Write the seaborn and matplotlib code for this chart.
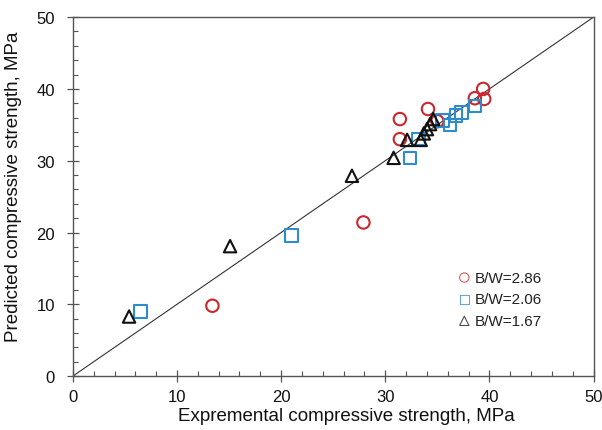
import matplotlib
matplotlib.use("Agg")
import matplotlib.pyplot as plt
import seaborn as sns
import pandas as pd
from matplotlib.ticker import MultipleLocator

# Data
labels = ["B/W=2.86", "B/W=2.06", "B/W=1.67"]
x_286 = [13.4, 27.9, 31.4, 31.4, 34.1, 35.0, 38.6, 39.4, 39.5]
y_286 = [9.8, 21.4, 33.0, 35.8, 37.2, 35.5, 38.7, 40.0, 38.6]
x_206 = [6.5, 21.0, 32.4, 33.2, 35.5, 36.2, 36.8, 37.3, 38.6]
y_206 = [9.0, 19.6, 30.4, 33.0, 35.6, 35.0, 36.3, 36.7, 37.6]
x_167 = [5.4, 15.1, 26.8, 30.8, 32.1, 33.4, 33.7, 34.0, 34.3, 34.6]
y_167 = [8.3, 18.1, 27.9, 30.4, 32.9, 32.9, 33.8, 34.4, 35.1, 35.8]
line_x = [0, 50]
line_y = [0, 50]

sns.set_theme(style="white")
plt.rcParams["font.family"] = ["Liberation Sans", "DejaVu Sans"]

fig = plt.figure(figsize=(6.02, 4.31), dpi=100)
ax = fig.add_axes([0.121, 0.125, 0.865, 0.833])

sns.lineplot(x=line_x, y=line_y, ax=ax, color="#333333", linewidth=0.8)

series = [
    (x_286, y_286, "o", "#c8282e", labels[0]),
    (x_206, y_206, "s", "#2f8ccc", labels[1]),
    (x_167, y_167, "^", "#111111", labels[2]),
]
for xs, ys, m, c, lab in series:
    df = pd.DataFrame({"x": xs, "y": ys})
    sns.scatterplot(data=df, x="x", y="y", ax=ax, marker=m, s=80,
                    color=c, facecolor="none", edgecolor=c,
                    linewidth=1.5, label=lab, zorder=3)

ax.set_xlim(0, 50)
ax.set_ylim(0, 50)
ax.xaxis.set_major_locator(MultipleLocator(10))
ax.yaxis.set_major_locator(MultipleLocator(10))
ax.xaxis.set_minor_locator(MultipleLocator(2))
ax.yaxis.set_minor_locator(MultipleLocator(2))
ax.tick_params(which="major", direction="inout", length=8, width=0.9,
               color="#555555", labelsize=12, labelcolor="#111111",
               bottom=True, left=True)
ax.tick_params(axis="x", which="major", pad=5)
ax.tick_params(axis="y", which="major", pad=9)
ax.tick_params(which="minor", direction="in", length=3.5, width=0.8,
               color="#555555", bottom=True, left=True)
for sp in ax.spines.values():
    sp.set_color("#555555")
    sp.set_linewidth(1.0)

ax.set_xlabel("Expremental compressive strength, MPa", fontsize=13.5,
              color="#111111", labelpad=5)
ax.set_ylabel("Predicted compressive strength, MPa", fontsize=13.5,
              color="#111111", labelpad=2)
ax.xaxis.set_label_coords(0.525, -0.085)
ax.yaxis.set_label_coords(-0.098, 0.53)

leg = ax.legend(loc="upper left", bbox_to_anchor=(0.74, 0.294),
                frameon=False, fontsize=11, markerscale=0.75,
                handlelength=0.8, handletextpad=0.3, labelspacing=0.5,
                borderaxespad=0, borderpad=0)
for h in leg.legend_handles:
    h.set_linewidth(0.8)
    h.set_alpha(0.75)
for t in leg.get_texts():
    t.set_color("#222222")

fig.savefig("out.png", dpi=100)
